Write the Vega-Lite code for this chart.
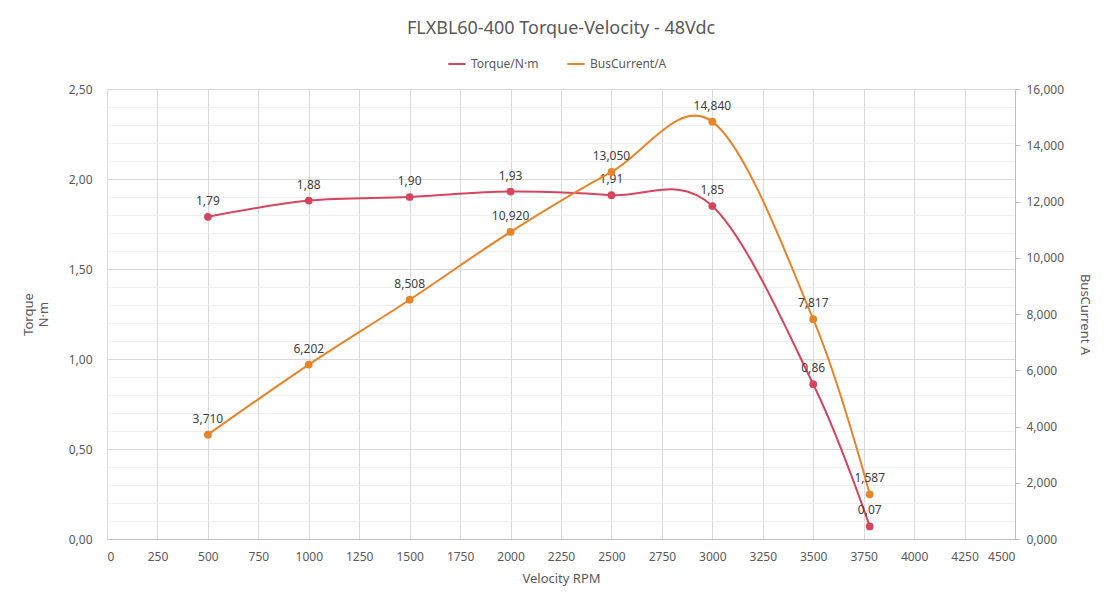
{
  "$schema": "https://vega.github.io/schema/vega-lite/v6.json",
  "width": 908,
  "height": 450,
  "autosize": "none",
  "padding": {"left": 107, "top": 89, "right": 99, "bottom": 69},
  "background": "white",
  "title": {
    "text": "FLXBL60-400 Torque-Velocity - 48Vdc",
    "fontSize": 18,
    "fontWeight": "normal",
    "color": "#595959",
    "font": "Noto Sans",
    "anchor": "middle",
    "offset": 16
  },
  "data": {
    "values": [
      {"rpm": 500, "torque": 1.79, "current": 3.71},
      {"rpm": 1000, "torque": 1.88, "current": 6.202},
      {"rpm": 1500, "torque": 1.90, "current": 8.508},
      {"rpm": 2000, "torque": 1.93, "current": 10.92},
      {"rpm": 2500, "torque": 1.91, "current": 13.05},
      {"rpm": 3000, "torque": 1.85, "current": 14.84},
      {"rpm": 3500, "torque": 0.86, "current": 7.817},
      {"rpm": 3780, "torque": 0.07, "current": 1.587}
    ]
  },
  "encoding": {
    "x": {
      "field": "rpm",
      "type": "quantitative",
      "title": "Velocity RPM",
      "scale": {"domain": [0, 4500], "nice": false},
      "axis": {
        "values": [0, 250, 500, 750, 1000, 1250, 1500, 1750, 2000, 2250, 2500, 2750, 3000, 3250, 3500, 3750, 4000, 4250, 4500],
        "format": "d",
        "grid": true,
        "gridColor": "#d9d9d9",
        "ticks": false,
        "domainColor": "#bfbfbf",
        "labelPadding": 12,
        "titlePadding": 10
      }
    }
  },
  "layer": [
    {
      "encoding": {
        "y": {
          "field": "torque",
          "type": "quantitative",
          "title": ["Torque", "N·m"],
          "scale": {"domain": [0, 2.5], "nice": false},
          "axis": {
            "orient": "left",
            "values": [0, 0.1, 0.2, 0.3, 0.4, 0.5, 0.6, 0.7, 0.8, 0.9, 1, 1.1, 1.2, 1.3, 1.4, 1.5, 1.6, 1.7, 1.8, 1.9, 2, 2.1, 2.2, 2.3, 2.4, 2.5],
            "labelExpr": "round(datum.value * 10) % 5 == 0 ? replace(format(datum.value, '.2f'), '.', ',') : ''",
            "grid": true,
            "gridColor": {
              "condition": {"test": "round(datum.value * 10) % 5 == 0", "value": "#d9d9d9"},
              "value": "#efefef"
            },
            "ticks": false,
            "domain": false,
            "labelPadding": 15,
            "titlePadding": 18
          }
        },
        "color": {"datum": "Torque/N·m"}
      },
      "layer": [
        {"mark": {"type": "line", "interpolate": "cardinal", "strokeWidth": 2}},
        {"mark": {"type": "circle", "size": 60, "opacity": 1}},
        {
          "mark": {"type": "text", "dy": -16, "fontSize": 12, "font": "Noto Sans"},
          "encoding": {
            "text": {"field": "torque", "type": "quantitative", "format": ".2f"},
            "color": {"value": "#404040"}
          }
        }
      ]
    },
    {
      "encoding": {
        "y": {
          "field": "current",
          "type": "quantitative",
          "title": "BusCurrent A",
          "scale": {"domain": [0, 16], "nice": false},
          "axis": {
            "orient": "right",
            "values": [0, 2, 4, 6, 8, 10, 12, 14, 16],
            "labelExpr": "replace(format(datum.value, '.3f'), '.', ',')",
            "grid": false,
            "ticks": true,
            "tickSize": 5,
            "tickColor": "#bfbfbf",
            "domainColor": "#bfbfbf",
            "labelPadding": 6,
            "titlePadding": 14
          }
        },
        "color": {"datum": "BusCurrent/A"}
      },
      "layer": [
        {"mark": {"type": "line", "interpolate": "cardinal", "strokeWidth": 2}},
        {"mark": {"type": "circle", "size": 60, "opacity": 1}},
        {
          "mark": {"type": "text", "dy": -16, "fontSize": 12, "font": "Noto Sans"},
          "encoding": {
            "text": {"field": "current", "type": "quantitative", "format": ".3f"},
            "color": {"value": "#404040"}
          }
        }
      ]
    }
  ],
  "resolve": {"scale": {"y": "independent"}},
  "config": {
    "locale": {
      "number": {"decimal": ",", "thousands": ".", "grouping": [3], "currency": ["", ""]}
    },
    "font": "Noto Sans",
    "view": {"stroke": null},
    "axis": {
      "labelFont": "Noto Sans",
      "labelFontSize": 12,
      "labelColor": "#595959",
      "titleFont": "Noto Sans",
      "titleFontSize": 13,
      "titleFontWeight": "normal",
      "titleColor": "#595959"
    },
    "range": {"category": ["#d6455d", "#e8832a"]},
    "legend": {
      "orient": "none",
      "legendX": 340,
      "legendY": -35,
      "direction": "horizontal",
      "title": null,
      "labelFont": "Noto Sans",
      "labelFontSize": 12,
      "labelColor": "#595959",
      "symbolType": "stroke",
      "symbolStrokeWidth": 2,
      "symbolSize": 300,
      "columnPadding": 24
    }
  }
}
